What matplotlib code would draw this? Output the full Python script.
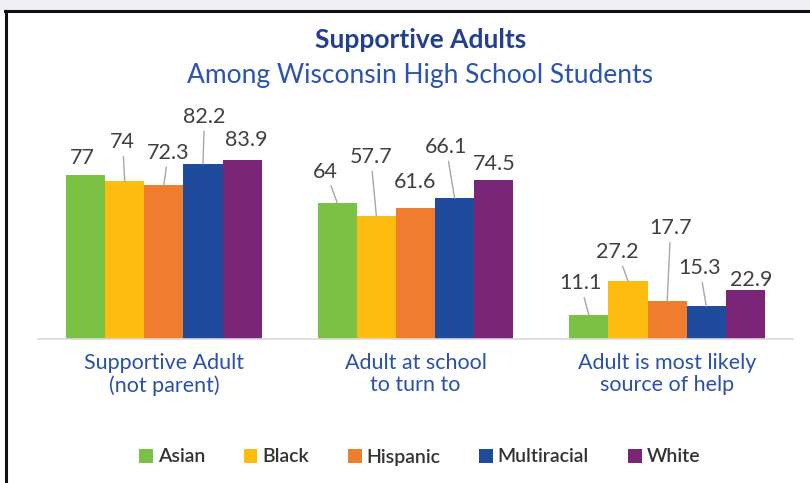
import matplotlib
matplotlib.use("Agg")
import matplotlib.pyplot as plt
from matplotlib.patches import Rectangle
from matplotlib.lines import Line2D
import numpy as np

plt.rcParams['font.family'] = ['Lato', 'DejaVu Sans']

categories = ["Supportive Adult\n(not parent)", "Adult at school\nto turn to", "Adult is most likely\nsource of help"]
groups = ["Asian", "Black", "Hispanic", "Multiracial", "White"]
asian = [77, 64, 11.1]
black = [74, 57.7, 27.2]
hispanic = [72.3, 61.6, 17.7]
multiracial = [82.2, 66.1, 15.3]
white = [83.9, 74.5, 22.9]
series = [asian, black, hispanic, multiracial, white]
colors = ["#7BC143", "#FDBD10", "#EF7D2E", "#1E4B9B", "#7B2579"]

# label offsets (pixels, from bar top) and whether a leader line is drawn
label_offsets = [
    [(-3, 17, False), (-11.5, 31, True), (-8.5, 32, True)],
    [(-2, 39, True), (-5.5, 59, True), (-10.5, 29, True)],
    [(4.5, 32, True), (0, 26, False), (3.5, 73, True)],
    [(1.5, 47, True), (-8.5, 51, True), (-6.5, 38, True)],
    [(4.5, 20, False), (0.5, 16, False), (5.5, 10, False)],
]

W, H = 810, 483
fig = plt.figure(figsize=(W / 100, H / 100), dpi=100)
fig.patch.set_facecolor("white")

# light strip above the frame and the frame lines
fig.add_artist(Rectangle((0, 1 - 10 / H), 1, 10 / H, transform=fig.transFigure,
                         facecolor="#EEF0F4", edgecolor="none", zorder=0))
fig.add_artist(Line2D([5.5 / W, 5.5 / W], [0, 1 - 10.5 / H], transform=fig.transFigure,
                      color="#111111", lw=2.2))
fig.add_artist(Line2D([4.5 / W, 1], [1 - 10.5 / H, 1 - 10.5 / H], transform=fig.transFigure,
                      color="#111111", lw=2.2))

ax = fig.add_axes([38 / W, 1 - 339 / H, 755 / W, 213 / H])
ax.set_xlim(-0.5, 2.5)
ax.set_ylim(0, 100)

x = np.arange(len(categories))
bw = 0.1555
for i, (vals, col) in enumerate(zip(series, colors)):
    xs = x + (i - 2) * bw
    ax.bar(xs, vals, width=bw, color=col, edgecolor="none", label=groups[i], zorder=2)
    for j, v in enumerate(vals):
        dx, dy, lead = label_offsets[i][j]
        kw = {}
        if lead:
            kw["arrowprops"] = dict(arrowstyle="-", color="#A6A6A6", lw=1.0,
                                    shrinkA=1, shrinkB=0)
        ax.annotate(f"{v:g}", xy=(xs[j], v), xytext=(dx * 0.72, dy * 0.72),
                    textcoords="offset points", ha="center", va="center",
                    fontsize=15.5, color="#404040", **kw)

for s in ["top", "right", "left"]:
    ax.spines[s].set_visible(False)
ax.spines["bottom"].set_color("#D9D9D9")
ax.spines["bottom"].set_linewidth(1.2)
ax.set_yticks([])
ax.set_xticks(x)
ax.set_xticklabels(categories, fontsize=15.5, color="#2A51A6", linespacing=1.15)
ax.tick_params(axis="x", length=0, pad=10)

fig.text(0.519, 1 - 40 / H, "Supportive Adults", ha="center", va="center",
         fontsize=19, fontweight="bold", color="#243F8E")
fig.text(0.519, 1 - 76 / H, "Among Wisconsin High School Students", ha="center", va="center",
         fontsize=19, color="#2B54AE")

fig.legend(loc="center", bbox_to_anchor=(0.518, 1 - 457 / H), ncol=5, frameon=False,
           handlelength=0.7, handleheight=0.7, handletextpad=0.25, columnspacing=2.0,
           prop={"size": 14, "weight": "semibold"}, labelcolor="#333333")

fig.savefig("out.png", dpi=100, facecolor="white")
